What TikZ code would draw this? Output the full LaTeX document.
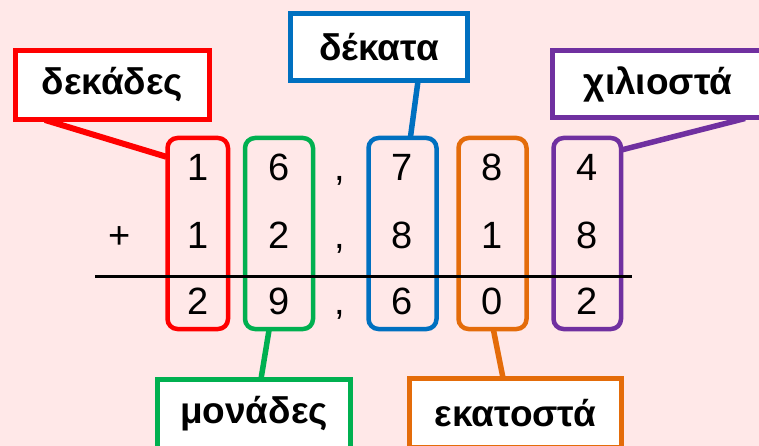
\documentclass[tikz,border=0pt]{standalone}
\usepackage{fontspec}
\setmainfont{Liberation Sans}
\usetikzlibrary{positioning,calc,backgrounds}
\definecolor{fonto}{RGB}{255,232,232}
\definecolor{kokkino}{RGB}{255,0,0}
\definecolor{prasino}{RGB}{0,176,80}
\definecolor{mple}{RGB}{0,112,192}
\definecolor{portokali}{RGB}{228,108,10}
\definecolor{mov}{RGB}{112,48,160}
\tikzset{
  etiketa/.style={draw=#1,line width=5pt,fill=white,inner sep=0pt,minimum height=69pt,
                  font=\fontsize{37}{40}\selectfont\bfseries},
  stili/.style={draw=#1,line width=4.5pt,rounded corners=10pt,inner sep=0pt,
                minimum width=68pt,minimum height=191pt},
  psifio/.style={anchor=base,inner sep=0pt,font=\fontsize{38}{40}\selectfont},
  grammi/.style={draw=#1,line width=6pt},
}

\begin{document}
\begin{tikzpicture}[x=1pt,y=-1pt]
  \useasboundingbox (0,0) rectangle (759,446);
  \clip (0,0) rectangle (759,446);
  \begin{pgfonlayer}{background}
    \fill[fonto] (0,0) rectangle (759,446);
  \end{pgfonlayer}
  % etiketes
  \node[etiketa=kokkino,minimum width=194pt] (dekades) at (112.5,85) {δεκάδες};
  \node[etiketa=mple,minimum width=177pt,minimum height=67pt] (dekata) at (379,47) {δέκατα};
  \node[etiketa=mov,minimum width=211pt,minimum height=67pt] (chiliosta) at (658,84.5) {χιλιοστά};
  \node[etiketa=prasino,minimum width=193pt] (monades) at (254,414) {μονάδες};
  \node[etiketa=portokali,minimum width=212pt] (ekatosta) at (515.5,413) {εκατοστά};
  % stiles
  \node[stili=kokkino,minimum width=60.5pt] (stD) at (197.75,233.5) {};
  \node[stili=prasino] (stM) at (279,233.5) {};
  \node[stili=mple] (std) at (402.5,233.5) {};
  \node[stili=portokali] (ste) at (492.5,233.5) {};
  \node[stili=mov,minimum width=67.5pt] (stx) at (587.25,233.5) {};
  % psifia
  \node[psifio] (a1) at (197.75,181) {1};
  \node[psifio] (a2) at (279,181) {6};
  \node[psifio] (a3) at (340,181) {,};
  \node[psifio] (a4) at (402.5,181) {7};
  \node[psifio] (a5) at (492.5,181) {8};
  \node[psifio] (a6) at (587.25,181) {4};
  \node[psifio] (syn) at (120,248) {+};
  \node[psifio] (b1) at (197.75,248) {1};
  \node[psifio] (b2) at (279,248) {2};
  \node[psifio] (b3) at (340,248) {,};
  \node[psifio] (b4) at (402.5,248) {8};
  \node[psifio] (b5) at (492.5,248) {1};
  \node[psifio] (b6) at (587.25,248) {8};
  \node[psifio] (c1) at (197.75,314) {2};
  \node[psifio] (c2) at (279,314) {9};
  \node[psifio] (c3) at (340,314) {,};
  \node[psifio] (c4) at (402.5,314) {6};
  \node[psifio] (c5) at (492.5,314) {0};
  \node[psifio] (c6) at (587.25,314) {2};
  \coordinate (arxi) at (95,276);
  \coordinate (telos) at (632,276);
  \draw[line width=3pt] (arxi) -- (telos);
  % syndeseis
  \begin{pgfonlayer}{background}
    \draw[grammi=kokkino] ($(dekades.south west)+(32,-2)$) -- ($(stD.north west)+(1,21)$);
    \draw[grammi=mple,line width=5.5pt] ($(dekata.south)+(39,-2)$) -- ($(std.north)+(8,1)$);
    \draw[grammi=mov,line width=5.5pt] ($(chiliosta.south west)+(195,-2)$) -- ($(stx.north east)+(-1,14)$);
    \draw[grammi=prasino,line width=5.5pt] ($(stM.south)+(-10,-1)$) -- ($(monades.north)+(7,2)$);
    \draw[grammi=portokali,line width=5.5pt] ($(ste.south)+(1,-1)$) -- ($(ekatosta.north)+(-12.5,2)$);
  \end{pgfonlayer}
\end{tikzpicture}
\end{document}
